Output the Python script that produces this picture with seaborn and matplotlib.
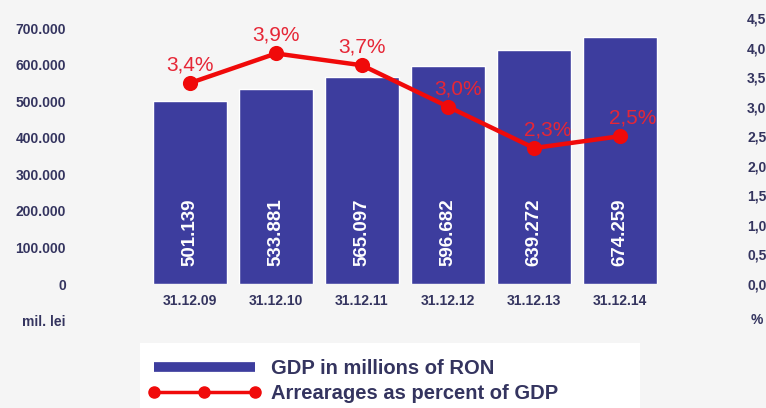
import matplotlib
matplotlib.use("Agg")
import matplotlib.pyplot as plt
from matplotlib.lines import Line2D
from matplotlib.patches import Rectangle
from matplotlib.ticker import FuncFormatter, MultipleLocator
from matplotlib.transforms import blended_transform_factory
import numpy as np
import pandas as pd
import seaborn as sns

# data
dates = ["31.12.09", "31.12.10", "31.12.11", "31.12.12", "31.12.13", "31.12.14"]
gdp = [501139, 533881, 565097, 596682, 639272, 674259]   # mil. lei
arrears_pct = [3.4, 3.9, 3.7, 3.0, 2.3, 2.5]             # % of GDP

bar_color = "#3d3d9e"
line_color = "#f00a0a"
label_red = "#e62636"
text_navy = "#34345f"

sns.set_theme(style="white")
plt.rcParams["font.family"] = ["Liberation Sans", "DejaVu Sans"]

df = pd.DataFrame({"date": dates, "gdp": gdp, "pct": arrears_pct})

W, H = 766, 408
fig = plt.figure(figsize=(W / 100, H / 100), dpi=100, facecolor="#f5f5f5")

# axes box in pixels: left 70, right 743, bottom 284, top 18
ax = fig.add_axes([70 / W, (H - 284) / H, (743 - 70) / W, (284 - 18) / H])
ax.set_facecolor("none")

sns.barplot(data=df, x="date", y="gdp", color=bar_color, width=0.87,
            saturation=1, ax=ax)

ax2 = ax.twinx()
sns.pointplot(data=df, x="date", y="pct", color=line_color, markers="o",
              markersize=8.5, linewidth=3.2, ax=ax2)

# index 0 at x=190px, 86px per category
ax.set_xlim(-(190 - 70) / 86, (743 - 190) / 86)
ax.set_ylim(0, (284 - 18) / 0.3657 * 1000)
ax2.set_ylim(0, 4.5)

ax.yaxis.set_major_locator(MultipleLocator(100000))
ax.yaxis.set_major_formatter(FuncFormatter(lambda v, p: f"{v:,.0f}".replace(",", ".")))
ax2.yaxis.set_major_locator(MultipleLocator(0.5))
ax2.yaxis.set_major_formatter(FuncFormatter(lambda v, p: f"{v:.1f}".replace(".", ",")))

for a in (ax, ax2):
    a.set_xlabel("")
    a.set_ylabel("")
    for s in a.spines.values():
        s.set_visible(False)
    a.grid(False)

ax.tick_params(axis="y", length=0, pad=3, labelsize=10, labelcolor=text_navy)
ax.tick_params(axis="x", length=0, pad=7, labelsize=10, labelcolor=text_navy)
ax2.tick_params(axis="y", length=0, pad=3, labelsize=10, labelcolor=text_navy)
for lab in ax.get_yticklabels() + ax.get_xticklabels() + ax2.get_yticklabels():
    lab.set_fontweight("bold")

# values written inside the bars
trans = blended_transform_factory(ax.transData, ax.transAxes)
for i, v in enumerate(gdp):
    ax.text(i, 0.195, f"{v / 1000:.3f}", rotation=90, ha="center", va="center",
            color="white", fontsize=13.5, fontweight="bold", transform=trans)

# percent labels above the points
label_dx = [0, 0, 0, 7, 10, 9]
for i, v in enumerate(arrears_pct):
    ax2.annotate(f"{v:.1f}%".replace(".", ","), (i, v),
                 xytext=(label_dx[i], 13), textcoords="offset points",
                 ha="center", va="center", color=label_red, fontsize=15)

fig.text(66 / W, 1 - 322 / H, "mil. lei", ha="right", va="center",
         fontsize=10, fontweight="bold", color=text_navy)
fig.text(757 / W, 1 - 320 / H, "%", ha="center", va="center",
         fontsize=10, fontweight="bold", color=text_navy)

# legend area
fig.patches.append(Rectangle((140 / W, 0), 500 / W, (408 - 343) / H,
                             transform=fig.transFigure, facecolor="white",
                             edgecolor="none", zorder=0))
handles = [
    Line2D([], [], color=bar_color, lw=7, solid_capstyle="butt"),
    Line2D([], [], color=line_color, lw=2.5, marker="o", markersize=8),
]
fig.legend(handles, ["GDP in millions of RON", "Arrearages as percent of GDP"],
           loc="center left", bbox_to_anchor=(148 / W, 1 - 381 / H),
           frameon=False, numpoints=3, handlelength=5.6, handletextpad=0.5,
           labelspacing=0.3, borderaxespad=0, borderpad=0,
           prop={"size": 14.5, "weight": "bold"}, labelcolor=text_navy)

fig.savefig("out.png", dpi=100, facecolor=fig.get_facecolor())
